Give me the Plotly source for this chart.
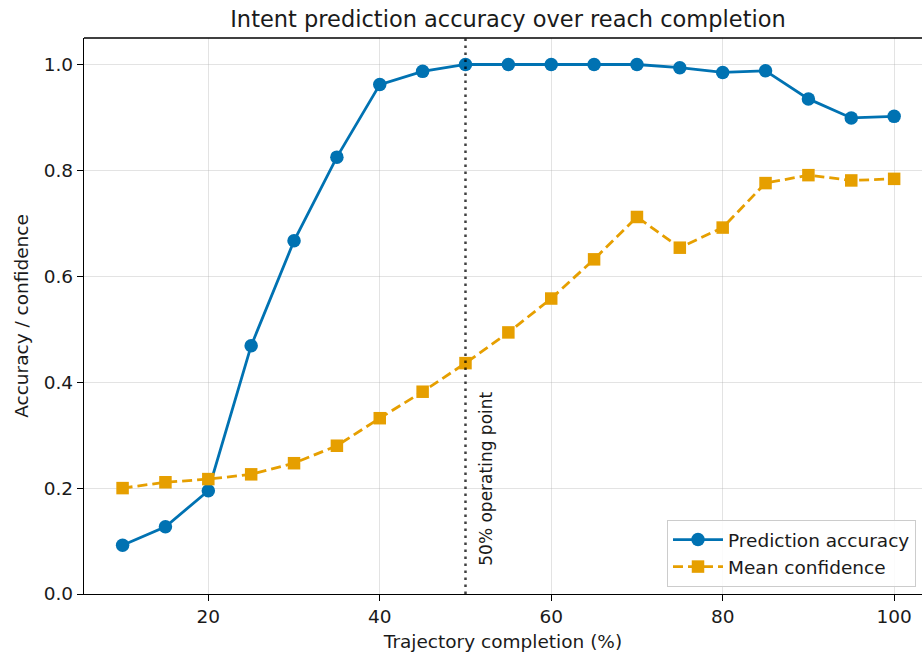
import plotly.graph_objects as go

completion = [10, 15, 20, 25, 30, 35, 40, 45, 50, 55, 60, 65, 70, 75, 80, 85, 90, 95, 100]
accuracy = [0.092, 0.127, 0.195, 0.469, 0.667, 0.825, 0.962, 0.987, 1.0, 1.0, 1.0, 1.0, 1.0,
            0.994, 0.985, 0.988, 0.935, 0.899, 0.902]
confidence = [0.200, 0.211, 0.217, 0.226, 0.247, 0.280, 0.332, 0.382, 0.436, 0.494, 0.558,
              0.632, 0.712, 0.654, 0.692, 0.776, 0.791, 0.781, 0.784]
operating_point = 50
x_ticks = [20, 40, 60, 80, 100]
y_ticks = [0.0, 0.2, 0.4, 0.6, 0.8, 1.0]

BLUE = "#0072B2"
ORANGE = "#E69F00"
FONT = "DejaVu Sans"
TXT = "#1a1a1a"

fig = go.Figure()
fig.add_trace(go.Scatter(
    x=completion, y=accuracy, mode="lines+markers", name="Prediction accuracy",
    line=dict(color=BLUE, width=2.8),
    marker=dict(symbol="circle", size=13.5, color=BLUE, line=dict(width=0)),
))
fig.add_trace(go.Scatter(
    x=completion, y=confidence, mode="lines+markers", name="Mean confidence",
    line=dict(color=ORANGE, width=2.8, dash="10px,5px"),
    marker=dict(symbol="square", size=12.5, color=ORANGE, line=dict(width=0)),
))

fig.add_shape(type="line", xref="x", yref="paper", x0=operating_point, x1=operating_point,
              y0=0, y1=1, line=dict(color="rgba(0,0,0,0.75)", width=2.5, dash="2.5px,4.5px"),
              layer="above")
fig.add_annotation(x=operating_point + 0.9, y=0.05, xref="x", yref="y",
                   text="50% operating point", textangle=-90, showarrow=False,
                   xanchor="left", yanchor="bottom",
                   font=dict(family=FONT, size=17, color=TXT))

axis_common = dict(
    showline=True, linecolor="black", linewidth=1.4,
    ticks="outside", ticklen=6, tickwidth=1.4, tickcolor="black",
    showgrid=True, gridcolor="rgba(176,176,176,0.35)", gridwidth=1.2,
    zeroline=False,
    tickfont=dict(family=FONT, size=18.5, color=TXT),
)

fig.update_xaxes(
    range=[5.5, 103.25], tickvals=x_ticks, mirror=False,
    title=dict(text="Trajectory completion (%)", font=dict(family=FONT, size=18.5, color=TXT), standoff=8),
    **axis_common,
)
fig.update_yaxes(
    range=[0, 1.05], tickvals=y_ticks, tickformat=".1f",
    title=dict(text="Accuracy / confidence", font=dict(family=FONT, size=18.5, color=TXT), standoff=10),
    **axis_common,
)
# top spine
fig.add_shape(type="line", xref="paper", yref="paper", x0=0, x1=1, y0=1, y1=1,
              line=dict(color="black", width=1.4))

fig.update_layout(
    width=922, height=653,
    margin=dict(l=84, r=0, t=38, b=59),
    paper_bgcolor="white", plot_bgcolor="white",
    title=dict(text="Intent prediction accuracy over reach completion",
               font=dict(family=FONT, size=22.5, color=TXT),
               x=508 / 922, xanchor="center", y=1 - 19 / 653, yanchor="middle"),
    font=dict(family=FONT, color=TXT),
    legend=dict(
        x=(667 - 84) / 838, xanchor="left", y=(594 - 520) / 556, yanchor="top",
        bgcolor="rgba(255,255,255,0.85)", bordercolor="#cccccc", borderwidth=1,
        font=dict(family=FONT, size=18.5, color=TXT), itemwidth=50,
        tracegroupgap=0,
    ),
    showlegend=True,
)

fig.write_html(
    "out.html",
    config={"displayModeBar": False},
    post_script="document.body.style.margin='0';document.body.style.padding='0';"
                "document.body.style.overflow='hidden';",
)
